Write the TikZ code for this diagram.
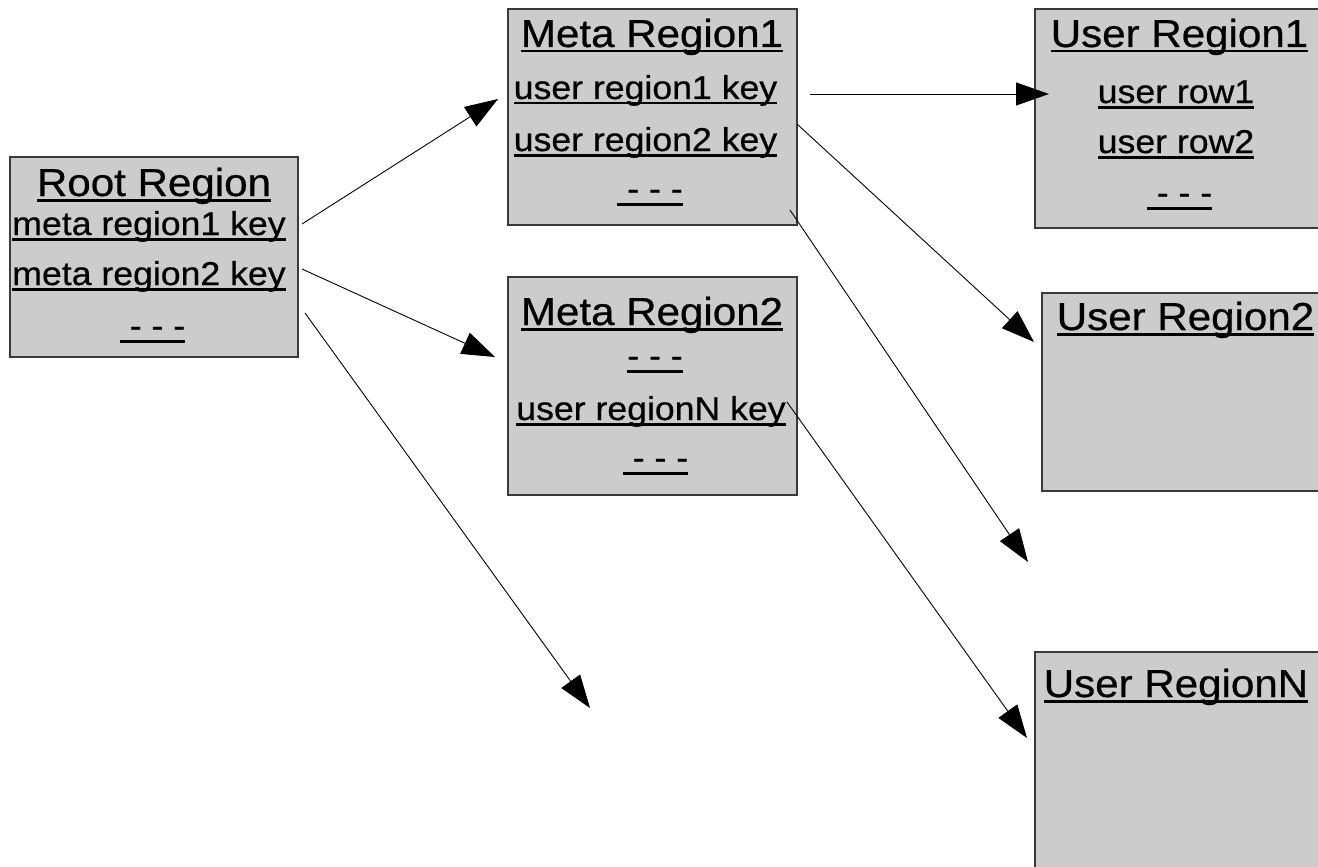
\documentclass[tikz,border=0pt]{standalone}
\usepackage{fontspec}
\setmainfont{Liberation Sans}[FakeStretch=1.08,FakeBold=0.6]
\usetikzlibrary{arrows.meta}

% underline that cuts through descenders, as in the drawing tool's output
\newcommand\ulx[1]{\setbox0=\hbox{#1}\rlap{\rule[-5.5pt]{\wd0}{2.8pt}}\box0}

\definecolor{boxfill}{HTML}{CCCCCC}
\definecolor{boxline}{HTML}{3A3A3A}

\tikzset{
  region/.style={draw=boxline, line width=1.2pt, fill=boxfill, anchor=north west,
                 inner sep=0pt, outer sep=0pt},
  ttl/.style={anchor=base, inner sep=0pt, font=\fontsize{39pt}{40pt}\selectfont},
  row/.style={anchor=base, inner sep=0pt, font=\fontsize{33pt}{34pt}\selectfont},
  link/.style={draw=black, line width=0.9pt,
               -{Triangle[length=33pt,width=23pt,fill=black]}},
}

\begin{document}
\begin{tikzpicture}[x=1pt,y=-1pt]
\useasboundingbox (0,0) rectangle (1318,867);
\clip (0,0) rectangle (1318,867);

% region boxes
\node[region, minimum width=288pt, minimum height=200pt] (root)  at (10,157)   {};
\node[region, minimum width=289pt, minimum height=216pt] (meta1) at (508,9)    {};
\node[region, minimum width=289pt, minimum height=218pt] (meta2) at (508,277)  {};
\node[region, minimum width=300pt, minimum height=219pt] (user1) at (1035,9)   {};
\node[region, minimum width=300pt, minimum height=198pt] (user2) at (1042,293) {};
\node[region, minimum width=300pt, minimum height=240pt] (userN) at (1035,652) {};

% root region
\node[ttl] (rootT)  at (154,196)   {\ulx{Root Region}};
\node[row] (rootK1) at (149,235)   {\ulx{meta region1 key}};
\node[row] (rootK2) at (149,285)   {\ulx{meta region2 key}};
\node[row] (rootD)  at (152.5,337) {\ulx{\ - - -}};

% meta region 1
\node[ttl] (m1T)  at (652,47)    {\ulx{Meta Region1}};
\node[row] (m1K1) at (645.5,99)  {\ulx{user region1 key}};
\node[row] (m1K2) at (645.5,151) {\ulx{user region2 key}};
\node[row] (m1D)  at (650,200)   {\ulx{\ - - -}};

% meta region 2
\node[ttl] (m2T)  at (652,325)   {\ulx{Meta Region2}};
\node[row] (m2D1) at (655,367)   {\ulx{- - -}};
\node[row] (m2KN) at (651,420)   {\ulx{user regionN key}};
\node[row] (m2D2) at (655.5,469) {\ulx{\ - - -}};

% user regions
\node[ttl] (u1T)  at (1179.5,47) {\ulx{User Region1}};
\node[row] (u1R1) at (1176,103)  {\ulx{user row1}};
\node[row] (u1R2) at (1176,153)  {\ulx{user row2}};
\node[row] (u1D)  at (1179.5,204){\ulx{\ - - -}};
\node[ttl] (u2T)  at (1185.5,330){\ulx{User Region2}};
\node[ttl] (uNT)  at (1176,697)  {\ulx{User RegionN}};

% connector end points
\coordinate (r1s) at (302,224);  \coordinate (r1e) at (498,99);
\coordinate (r2s) at (302,269);  \coordinate (r2e) at (495,357);
\coordinate (r3s) at (305,313);  \coordinate (r3e) at (590,708);
\coordinate (k1s) at (810,94);   \coordinate (k1e) at (1049,94);
\coordinate (k2s) at (797,124);  \coordinate (k2e) at (1034,342);
\coordinate (k3s) at (790,210);  \coordinate (k3e) at (1028,562);
\coordinate (kNs) at (787,402);  \coordinate (kNe) at (1027,738);

% pointers
\draw[link] (r1s) -- (r1e);
\draw[link] (r2s) -- (r2e);
\draw[link] (r3s) -- (r3e);
\draw[link] (k1s) -- (k1e);
\draw[link] (k2s) -- (k2e);
\draw[link] (k3s) -- (k3e);
\draw[link] (kNs) -- (kNe);
\end{tikzpicture}
\end{document}
